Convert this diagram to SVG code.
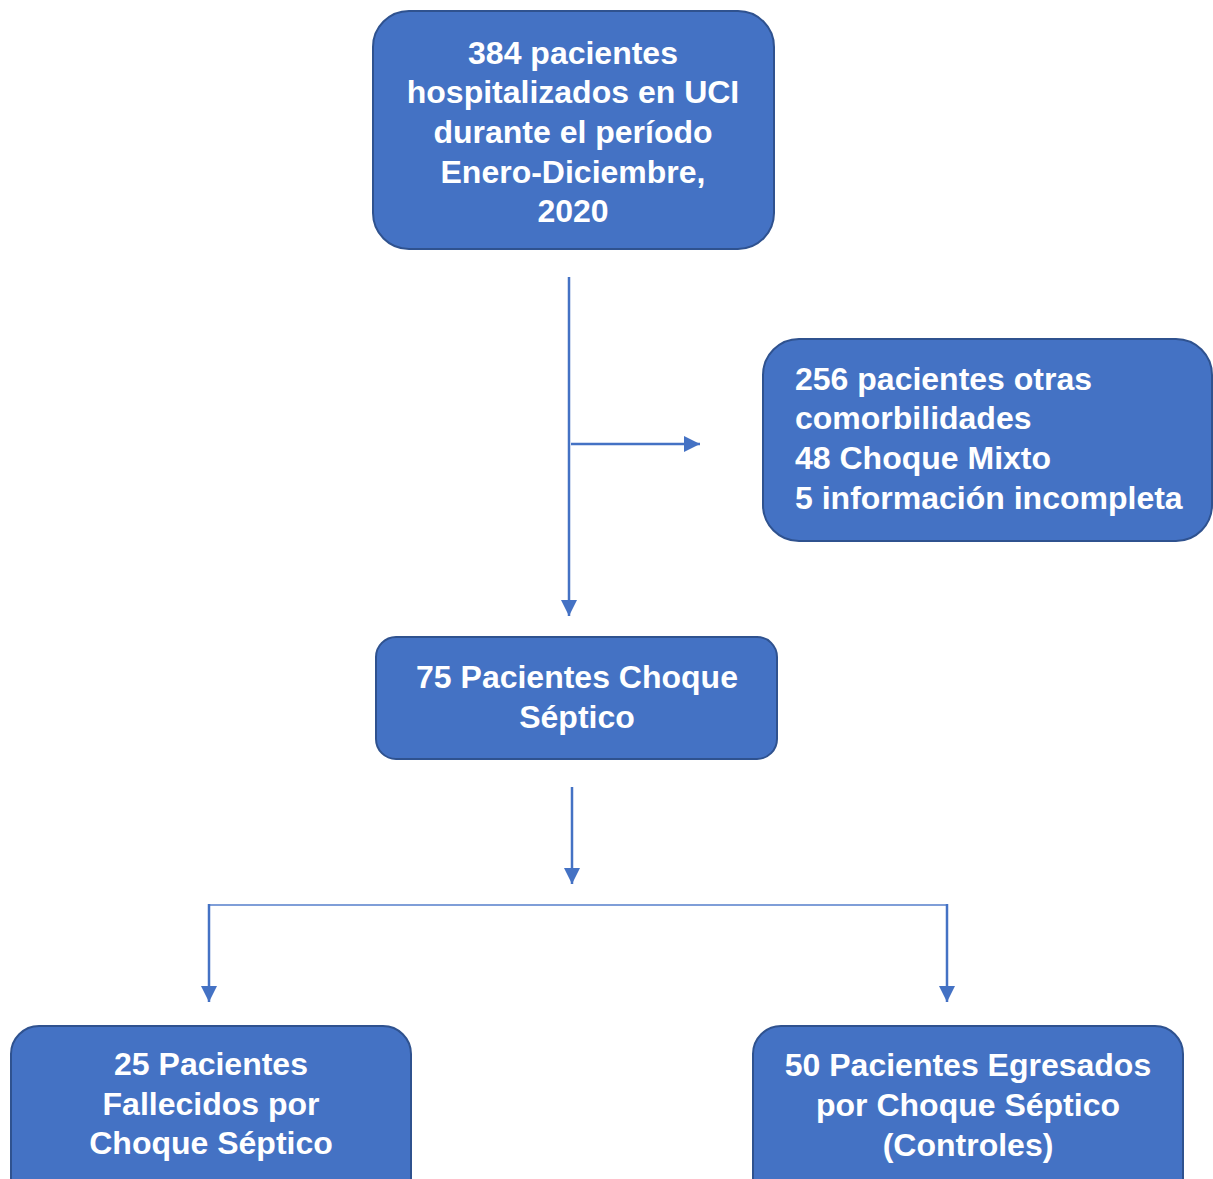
<svg xmlns="http://www.w3.org/2000/svg" width="1213" height="1179" viewBox="0 0 1213 1179">
<defs>
<style>
.box{fill:#4472C4;stroke:#2F528F;stroke-width:2}
.t{font-family:"Liberation Sans",Arial,sans-serif;font-weight:bold;font-size:32px;fill:#FFFFFF}
.c{text-anchor:middle}
.ln{stroke:#4472C4;stroke-width:2.5;fill:none}
</style>
<marker id="ah" viewBox="0 0 10 10" refX="10" refY="5" markerWidth="16" markerHeight="16" markerUnits="userSpaceOnUse" orient="auto">
<path d="M0,0 L10,5 L0,10 Z" fill="#4472C4"/>
</marker>
</defs>
<rect width="1213" height="1179" fill="#FFFFFF"/>
<g id="connectors">
<line class="ln" x1="569" y1="277" x2="569" y2="616" marker-end="url(#ah)"/>
<line class="ln" x1="571" y1="444" x2="700" y2="444" marker-end="url(#ah)"/>
<line class="ln" x1="572" y1="787" x2="572" y2="884" marker-end="url(#ah)"/>
<line x1="209" y1="905" x2="947" y2="905" stroke="#7F9ED8" stroke-width="2"/>
<line class="ln" x1="209" y1="904" x2="209" y2="1002" marker-end="url(#ah)"/>
<line class="ln" x1="947" y1="904" x2="947" y2="1002" marker-end="url(#ah)"/>
</g>
<g id="n1">
<rect class="box" x="373" y="11" width="401" height="238" rx="36"/>
<text class="t c" x="573" y="64">384 pacientes</text>
<text class="t c" x="573" y="103">hospitalizados en UCI</text>
<text class="t c" x="573" y="143">durante el período</text>
<text class="t c" x="573" y="183">Enero-Diciembre,</text>
<text class="t c" x="573" y="222">2020</text>
</g>
<g id="n2">
<rect class="box" x="763" y="339" width="449" height="202" rx="36"/>
<text class="t" x="795" y="390">256 pacientes otras</text>
<text class="t" x="795" y="429">comorbilidades</text>
<text class="t" x="795" y="469">48 Choque Mixto</text>
<text class="t" x="795" y="509">5 información incompleta</text>
</g>
<g id="n3">
<rect class="box" x="376" y="637" width="401" height="122" rx="20"/>
<text class="t c" x="577" y="688">75 Pacientes Choque</text>
<text class="t c" x="577" y="728">Séptico</text>
</g>
<g id="n4">
<rect class="box" x="11" y="1026" width="400" height="180" rx="28"/>
<text class="t c" x="211" y="1075">25 Pacientes</text>
<text class="t c" x="211" y="1115">Fallecidos por</text>
<text class="t c" x="211" y="1154">Choque Séptico</text>
</g>
<g id="n5">
<rect class="box" x="753" y="1026" width="430" height="180" rx="28"/>
<text class="t c" x="968" y="1076">50 Pacientes Egresados</text>
<text class="t c" x="968" y="1116">por Choque Séptico</text>
<text class="t c" x="968" y="1156">(Controles)</text>
</g>
</svg>
